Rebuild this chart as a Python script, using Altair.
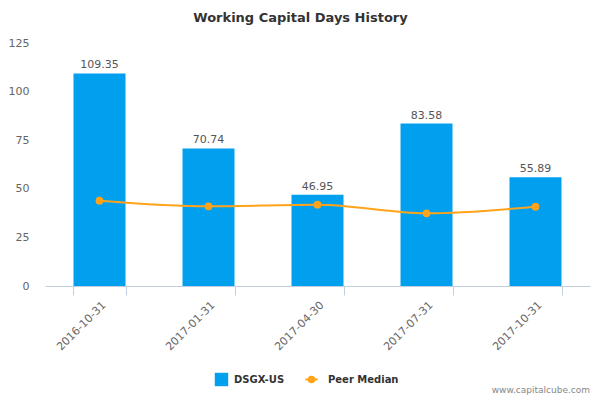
import altair as alt
import pandas as pd

dates = ["2016-10-31", "2017-01-31", "2017-04-30", "2017-07-31", "2017-10-31"]
company = [109.35, 70.74, 46.95, 83.58, 55.89]
peer = [43.9, 41.0, 41.8, 37.4, 40.8]

BLUE = "#00a0ef"
ORANGE = "#ffa31a"

bars_df = pd.DataFrame({"date": dates, "value": company, "series": ["DSGX-US"] * len(dates),
                        "label": [f"{v:.2f}" for v in company]})
peer_df = pd.DataFrame({"date": dates, "value": peer, "series": ["Peer Median"] * len(dates)})

xenc = alt.X("date:N", sort=dates, title=None,
             scale=alt.Scale(paddingInner=0.52, paddingOuter=0.26),
             axis=alt.Axis(labelAngle=-45, labelFontSize=11, labelColor="#666666",
                           domainColor="#c0d0e0", tickColor="#c0d0e0", tickSize=9,
                           tickBand="extent", labelPadding=4, labelFont="DejaVu Sans"))
yscale = alt.Scale(domain=[0, 125])
yaxis = alt.Axis(values=[0, 25, 50, 75, 100, 125], grid=False, domain=False, ticks=False,
                 labelFontSize=11, labelColor="#666666", labelPadding=16, title=None,
                 labelFont="DejaVu Sans")

bars = alt.Chart(bars_df).mark_bar(size=52).encode(
    x=xenc,
    y=alt.Y("value:Q", scale=yscale, axis=yaxis),
    fill=alt.Fill("series:N", scale=alt.Scale(domain=["DSGX-US"], range=[BLUE]),
                  legend=alt.Legend(title=None, orient="none", legendX=169, legendY=329,
                                    symbolType="square", symbolSize=180, labelOffset=5,
                                    labelFontSize=10, labelFontWeight="bold",
                                    labelColor="#333333", labelFont="DejaVu Sans", padding=0)),
)

labels = alt.Chart(bars_df).mark_text(dy=-3, fontSize=11, color="#555555",
                                      font="DejaVu Sans", baseline="bottom").encode(
    x=alt.X("date:N", sort=dates),
    y=alt.Y("value:Q", scale=yscale),
    text="label:N",
)

line = alt.Chart(peer_df).mark_line(interpolate="monotone", strokeWidth=2).encode(
    x=alt.X("date:N", sort=dates),
    y=alt.Y("value:Q", scale=yscale),
    stroke=alt.Stroke("series:N", scale=alt.Scale(domain=["Peer Median"], range=[ORANGE]),
                      legend=alt.Legend(title=None, orient="none", legendX=259, legendY=329,
                                        symbolType="M-1,0H1M0.45,0A0.45,0.45 0 1,1 -0.45,0A0.45,0.45 0 1,1 0.45,0Z",
                                        symbolSize=150, symbolStrokeWidth=2,
                                        symbolFillColor=ORANGE, labelOffset=9,
                                        labelFontSize=10, labelFontWeight="bold",
                                        labelColor="#333333", labelFont="DejaVu Sans", padding=0)),
)

points = alt.Chart(peer_df).mark_circle(size=60, color=ORANGE, opacity=1).encode(
    x=alt.X("date:N", sort=dates),
    y=alt.Y("value:Q", scale=yscale),
)

watermark = alt.Chart(pd.DataFrame({"t": ["www.capitalcube.com"]})).mark_text(
    align="right", baseline="bottom", fontSize=9, color="#888888", font="DejaVu Sans"
).encode(x=alt.value(545), y=alt.value(352), text="t:N")

chart = alt.layer(bars, labels, line, points, watermark).properties(
    width=545, height=243,
    title=alt.TitleParams("Working Capital Days History", fontSize=13, fontWeight="bold",
                          color="#333333", font="DejaVu Sans", offset=12, dx=-17),
    autosize=alt.AutoSizeParams(type="none"),
    padding={"left": 37, "top": 35, "right": 2, "bottom": 112},
).configure_view(stroke=None)

chart.save("out.html", embed_options={"renderer": "svg", "actions": False})
